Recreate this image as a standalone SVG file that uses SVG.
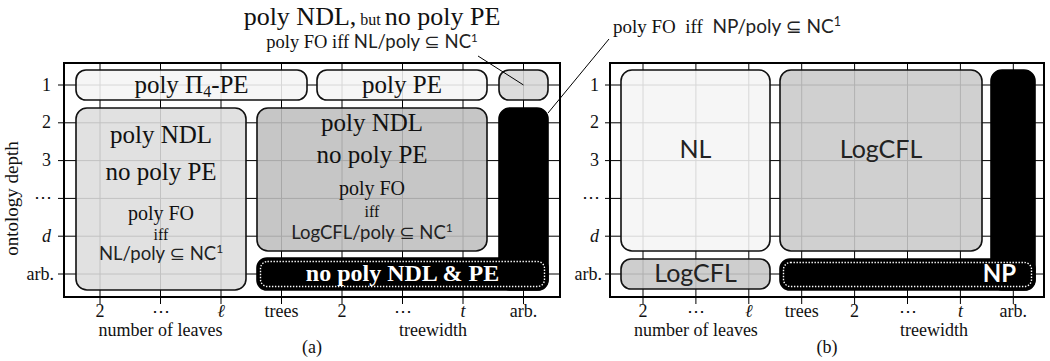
<svg xmlns="http://www.w3.org/2000/svg" width="1050" height="361" viewBox="0 0 1050 361">
<style>
.serif{font-family:"Liberation Serif","DejaVu Serif",serif;fill:#111}
.sans{font-family:Lato,"DejaVu Sans",sans-serif;fill:#222}
.grid{stroke:#000;stroke-width:1;fill:none}
.frame{fill:none;stroke:#000;stroke-width:2}
.box{stroke:#111;stroke-width:1.6;fill-opacity:0.88}
.dots{fill:none;stroke:#fff;stroke-width:1.4;stroke-dasharray:1.4 1.6}
.lead{stroke:#000;stroke-width:1;fill:none}
.ax{font-size:18px;text-anchor:middle}
.yl{font-size:18px;text-anchor:end}
.big{font-size:25px;text-anchor:middle}
.mid{font-size:20px;text-anchor:middle}
.iff{font-size:16px;text-anchor:middle}
.cx{font-size:18.5px;text-anchor:middle}
.it{font-style:italic}
</style>
<rect width="1050" height="361" fill="#fff"/>

<!-- grids -->
<g id="grid-a" class="grid">
<path d="M58 85H560M58 122.8H560M58 160.6H560M58 198.4H560M58 236.2H560M58 274H560"/>
<path d="M100 63V304M160.5 63V304M221 63V304M281.5 63V304M342 63V304M402.5 63V304M463 63V304M523.5 63V304"/>
</g>
<g id="grid-b" class="grid">
<path d="M605 85H1044M605 122.8H1044M605 160.6H1044M605 198.4H1044M605 236.2H1044M605 274H1044"/>
<path d="M643 63V304M695.9 63V304M748.8 63V304M801.7 63V304M854.6 63V304M907.5 63V304M960.4 63V304M1013.3 63V304"/>
</g>

<!-- panel (a) nodes -->
<g id="a-pi4pe">
<rect class="box" x="76" y="70" width="231" height="30" rx="10" fill="#f5f5f5"/>
<text class="serif" font-size="25" x="191.5" y="92.5" text-anchor="middle">poly Π<tspan font-size="16" dy="4">4</tspan><tspan dy="-4">-PE</tspan></text>
</g>
<g id="a-polype">
<rect class="box" x="317" y="70" width="170" height="30" rx="10" fill="#f5f5f5"/>
<text class="serif big" x="402" y="92.5">poly PE</text>
</g>
<g id="a-small">
<rect class="box" x="499" y="70" width="49" height="30" rx="10" fill="#d8d8d8"/>
</g>
<g id="a-leaves">
<rect class="box" x="76" y="108" width="170" height="182" rx="11" fill="#dddddd"/>
<text class="serif big" x="161" y="143">poly NDL</text>
<text class="serif big" x="161" y="180">no poly PE</text>
<text class="serif mid" x="161" y="220">poly FO</text>
<text class="serif iff" x="161" y="240">iff</text>
<text class="sans cx" x="161" y="259.5">NL/poly ⊆ NC<tspan font-size="12" dy="-7">1</tspan></text>
</g>
<g id="a-trees">
<rect class="box" x="257" y="108" width="230" height="143" rx="11" fill="#bebebe"/>
<text class="serif big" x="372" y="131">poly NDL</text>
<text class="serif big" x="372" y="163">no poly PE</text>
<text class="serif mid" x="372" y="195">poly FO</text>
<text class="serif iff" x="372" y="216.5">iff</text>
<text class="sans cx" x="372" y="238.5">LogCFL/poly ⊆ NC<tspan font-size="12" dy="-7">1</tspan></text>
</g>
<g id="a-arb">
<rect x="499" y="108" width="49" height="182" rx="11" fill="#000" stroke="#000" stroke-width="1.6"/>
<rect x="257" y="258" width="291" height="32" rx="10" fill="#000" stroke="#000" stroke-width="1.6"/>
<rect class="dots" x="260.5" y="261.5" width="284" height="25" rx="7"/>
<text x="402.5" y="281" font-family="'Liberation Serif','DejaVu Serif',serif" font-weight="bold" font-size="24" fill="#fff" text-anchor="middle">no poly NDL &amp; PE</text>
</g>

<!-- panel (b) nodes -->
<g id="b-nl">
<rect class="box" x="621" y="70" width="149" height="181" rx="11" fill="#f5f5f5"/>
<text class="sans" font-size="25" x="695.5" y="158" text-anchor="middle">NL</text>
</g>
<g id="b-logcfl">
<rect class="box" x="780" y="70" width="202" height="181" rx="11" fill="#cacaca"/>
<text class="sans" font-size="25" x="881" y="158" text-anchor="middle">LogCFL</text>
</g>
<g id="b-logcfl-arb">
<rect class="box" x="621" y="259" width="149" height="30" rx="10" fill="#c7c7c7"/>
<text class="sans" font-size="25" x="695.5" y="282" text-anchor="middle">LogCFL</text>
</g>
<g id="b-np">
<rect x="991" y="70" width="44" height="220" rx="11" fill="#000" stroke="#000" stroke-width="1.6"/>
<rect x="780" y="259" width="255" height="31" rx="10" fill="#000" stroke="#000" stroke-width="1.6"/>
<rect class="dots" x="783.5" y="262.5" width="248" height="24" rx="7"/>
<text x="1016" y="282" font-family="Lato,'DejaVu Sans',sans-serif" font-weight="bold" font-size="24" fill="#fff" text-anchor="end">NP</text>
</g>

<!-- frames -->
<rect class="frame" x="64" y="63" width="496" height="234"/>
<rect class="frame" x="610" y="63" width="434" height="234"/>

<!-- connectors -->
<g id="connectors">
<line class="lead" x1="478" y1="56" x2="523.5" y2="85"/>
<line class="lead" x1="609" y1="39" x2="548" y2="113"/>
</g>

<!-- annotations -->
<g id="note-a">
<text class="serif" x="372" y="25" text-anchor="middle"><tspan font-size="26">poly NDL,</tspan><tspan font-size="16"> but </tspan><tspan font-size="26">no poly PE</tspan></text>
<text x="372" y="47.5" text-anchor="middle" font-size="18.5"><tspan class="serif">poly FO iff </tspan><tspan class="sans">NL/poly ⊆ NC</tspan><tspan class="sans" font-size="11.5" dy="-6">1</tspan></text>
</g>
<g id="note-b">
<text x="613" y="33" font-size="19"><tspan class="serif">poly FO&#160; iff&#160; </tspan><tspan class="sans">NP/poly ⊆ NC</tspan><tspan class="sans" font-size="12.5" dy="-7">1</tspan></text>
</g>

<!-- axis labels (a) -->
<g id="axes-a" class="serif">
<text class="yl" x="51" y="90.5">1</text>
<text class="yl" x="51" y="128.3">2</text>
<text class="yl" x="51" y="166">3</text>
<text class="yl" x="52" y="203">⋯</text>
<text class="yl it" x="51" y="241.5">d</text>
<text class="yl" x="54" y="279.5">arb.</text>
<text font-size="19" text-anchor="middle" transform="translate(18 198.5) rotate(-90)">ontology depth</text>
<text class="ax" x="100" y="317">2</text>
<text class="ax" x="160.5" y="317">⋯</text>
<text class="ax it" x="221" y="317">ℓ</text>
<text class="ax" x="281.5" y="317">trees</text>
<text class="ax" x="342" y="317">2</text>
<text class="ax" x="402.5" y="317">⋯</text>
<text class="ax it" x="463" y="317">t</text>
<text class="ax" x="523.5" y="317">arb.</text>
<text class="ax" x="160.5" y="336">number of leaves</text>
<text class="ax" x="433" y="336">treewidth</text>
<text class="ax" x="312" y="353">(a)</text>
</g>

<!-- axis labels (b) -->
<g id="axes-b" class="serif">
<text class="yl" x="599" y="90.5">1</text>
<text class="yl" x="599" y="128.3">2</text>
<text class="yl" x="599" y="166">3</text>
<text class="yl" x="600" y="203">⋯</text>
<text class="yl it" x="599" y="241.5">d</text>
<text class="yl" x="602" y="279.5">arb.</text>
<text class="ax" x="643" y="317">2</text>
<text class="ax" x="695.9" y="317">⋯</text>
<text class="ax it" x="748.8" y="317">ℓ</text>
<text class="ax" x="801.7" y="317">trees</text>
<text class="ax" x="854.6" y="317">2</text>
<text class="ax" x="907.5" y="317">⋯</text>
<text class="ax it" x="960.4" y="317">t</text>
<text class="ax" x="1013.3" y="317">arb.</text>
<text class="ax" x="695.9" y="336">number of leaves</text>
<text class="ax" x="934" y="336">treewidth</text>
<text class="ax" x="827" y="353">(b)</text>
</g>
</svg>
